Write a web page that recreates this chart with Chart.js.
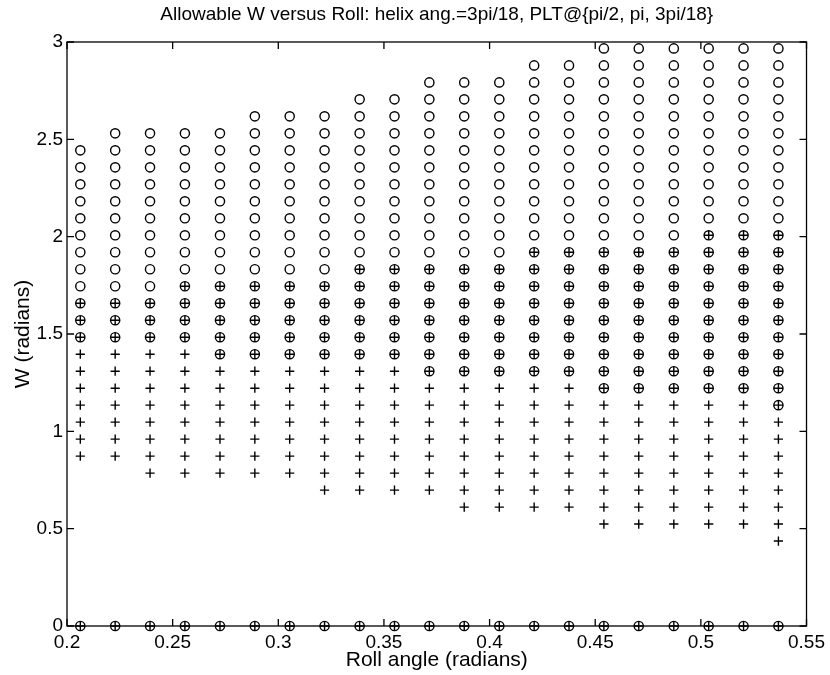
<!DOCTYPE html>
<html>
<head>
<meta charset="utf-8">
<title>Allowable W versus Roll</title>
<script src="https://cdn.jsdelivr.net/npm/chart.js@4.4.0/dist/chart.umd.min.js"></script>
<style>
  html, body { margin: 0; padding: 0; background: #fff; }
  #wrap { width: 830px; height: 675px; }
</style>
</head>
<body>
<div id="wrap"><canvas id="chart" width="830" height="675"></canvas></div>
<script>
// roll angle of each column (radians)
const rollAngles = [0.2063, 0.2228, 0.2393, 0.2558, 0.2724, 0.2889, 0.3054, 0.3219, 0.3385, 0.3550,
                    0.3715, 0.3880, 0.4046, 0.4211, 0.4376, 0.4541, 0.4706, 0.4872, 0.5037, 0.5202, 0.5367];

// W rows that appear in the plot (radians)
const wLevels = [0.4363, 0.5236, 0.6109, 0.6981, 0.7854, 0.8727, 0.9599, 1.0472, 1.1345, 1.2217,
                 1.3090, 1.3963, 1.4835, 1.5708, 1.6581, 1.7453, 1.8326, 1.9199, 2.0071, 2.0944,
                 2.1817, 2.2689, 2.3562, 2.4435, 2.5307, 2.6180, 2.7053, 2.7925, 2.8798, 2.9671];

// 'o' markers: lowest and highest W in each column
const circleLow  = [1.4835, 1.4835, 1.4835, 1.4835, 1.3963, 1.3963, 1.3963, 1.3963, 1.3963, 1.3963,
                    1.3090, 1.3090, 1.3090, 1.3090, 1.3090, 1.2217, 1.2217, 1.2217, 1.2217, 1.2217, 1.1345];
const circleHigh = [2.4435, 2.5307, 2.5307, 2.5307, 2.5307, 2.6180, 2.6180, 2.6180, 2.7053, 2.7053,
                    2.7925, 2.7925, 2.7925, 2.8798, 2.8798, 2.9671, 2.9671, 2.9671, 2.9671, 2.9671, 2.9671];

// '+' markers: lowest and highest W in each column
const plusLow  = [0.8727, 0.8727, 0.7854, 0.7854, 0.7854, 0.7854, 0.7854, 0.6981, 0.6981, 0.6981,
                  0.6981, 0.6109, 0.6109, 0.6109, 0.6109, 0.5236, 0.5236, 0.5236, 0.5236, 0.5236, 0.4363];
const plusHigh = [1.6581, 1.6581, 1.6581, 1.7453, 1.7453, 1.7453, 1.7453, 1.7453, 1.8326, 1.8326,
                  1.8326, 1.8326, 1.8326, 1.9199, 1.9199, 1.9199, 1.9199, 1.9199, 2.0071, 2.0071, 2.0071];

// every column also has both markers at W = 0
const baseW = 0;

const xTickValues = [0.2, 0.25, 0.3, 0.35, 0.4, 0.45, 0.5, 0.55];
const xTickLabels = ['0.2', '0.25', '0.3', '0.35', '0.4', '0.45', '0.5', '0.55'];
const yTickValues = [0, 0.5, 1, 1.5, 2, 2.5, 3];
const yTickLabels = ['0', '0.5', '1', '1.5', '2', '2.5', '3'];

const chartTitle = 'Allowable W versus Roll: helix ang.=3pi/18, PLT@{pi/2, pi, 3pi/18}';

let circlePts = [];
let plusPts = [];
rollAngles.forEach(function(x, i) {
  wLevels.forEach(function(w) {
    if (w >= circleLow[i] && w <= circleHigh[i]) circlePts.push({x: x, y: w});
    if (w >= plusLow[i] && w <= plusHigh[i]) plusPts.push({x: x, y: w});
  });
  circlePts.push({x: x, y: baseW});
  plusPts.push({x: x, y: baseW});
});

const FONT = "'Liberation Sans', Arial, Helvetica, sans-serif";
Chart.defaults.font.family = FONT;
Chart.defaults.color = '#000';

// box round the axes, inward ticks on all sides, title over the axes
const matlabAxes = {
  id: 'matlabAxes',
  afterDraw(chart) {
    const ctx = chart.ctx;
    const a = chart.chartArea;
    const xs = chart.scales.x, ys = chart.scales.y;
    const tl = 7;
    ctx.save();
    ctx.strokeStyle = '#000';
    ctx.lineWidth = 1.3;
    ctx.beginPath();
    xTickValues.forEach(function(v) {
      let px = xs.getPixelForValue(v);
      ctx.moveTo(px, a.bottom); ctx.lineTo(px, a.bottom - tl);
      ctx.moveTo(px, a.top); ctx.lineTo(px, a.top + tl);
    });
    yTickValues.forEach(function(v) {
      let py = ys.getPixelForValue(v);
      ctx.moveTo(a.left, py); ctx.lineTo(a.left + tl, py);
      ctx.moveTo(a.right, py); ctx.lineTo(a.right - tl, py);
    });
    ctx.stroke();
    ctx.strokeRect(a.left, a.top, a.right - a.left, a.bottom - a.top);

    ctx.fillStyle = '#000';
    ctx.font = '19px ' + FONT;
    ctx.textAlign = 'center';
    ctx.textBaseline = 'middle';
    ctx.fillText(chartTitle, (a.left + a.right) / 2, 15);
    ctx.restore();
  }
};

new Chart(document.getElementById('chart'), {
  type: 'scatter',
  data: {
    datasets: [
      {
        label: 'o',
        data: circlePts,
        pointStyle: 'circle',
        pointRadius: 4.6,
        pointHoverRadius: 4.6,
        pointBorderWidth: 1.4,
        pointBorderColor: '#000',
        pointBackgroundColor: 'rgba(0,0,0,0)',
        clip: false
      },
      {
        label: '+',
        data: plusPts,
        pointStyle: 'cross',
        pointRadius: 4.6,
        pointHoverRadius: 4.6,
        pointBorderWidth: 1.4,
        pointBorderColor: '#000',
        pointBackgroundColor: '#000',
        clip: false
      }
    ]
  },
  options: {
    responsive: false,
    animation: false,
    devicePixelRatio: 1,
    layout: { padding: { top: 42, right: 21, left: 0, bottom: 0 } },
    plugins: {
      legend: { display: false },
      title: { display: false },
      tooltip: { enabled: false }
    },
    scales: {
      x: {
        type: 'linear',
        min: 0.2,
        max: 0.55,
        afterBuildTicks: function(s) { s.ticks = xTickValues.map(v => ({value: v})); },
        afterFit: function(s) { s.height = 49; },
        grid: { display: false, drawTicks: false },
        border: { display: false },
        ticks: {
          padding: 5,
          maxRotation: 0,
          autoSkip: false,
          font: { size: 19 },
          callback: function(value, index) { return xTickLabels[index]; }
        },
        title: {
          display: true,
          text: 'Roll angle (radians)',
          font: { size: 21 },
          padding: { top: 0, bottom: 2 }
        }
      },
      y: {
        type: 'linear',
        min: 0,
        max: 3,
        afterBuildTicks: function(s) { s.ticks = yTickValues.map(v => ({value: v})); },
        afterFit: function(s) { s.width = 67; },
        grid: { display: false, drawTicks: false },
        border: { display: false },
        ticks: {
          padding: 4,
          autoSkip: false,
          font: { size: 19 },
          callback: function(value, index) { return yTickLabels[index]; }
        },
        title: {
          display: true,
          text: 'W (radians)',
          font: { size: 21 },
          padding: { top: 11, bottom: 0 }
        }
      }
    }
  },
  plugins: [matlabAxes]
});
</script>
</body>
</html>
